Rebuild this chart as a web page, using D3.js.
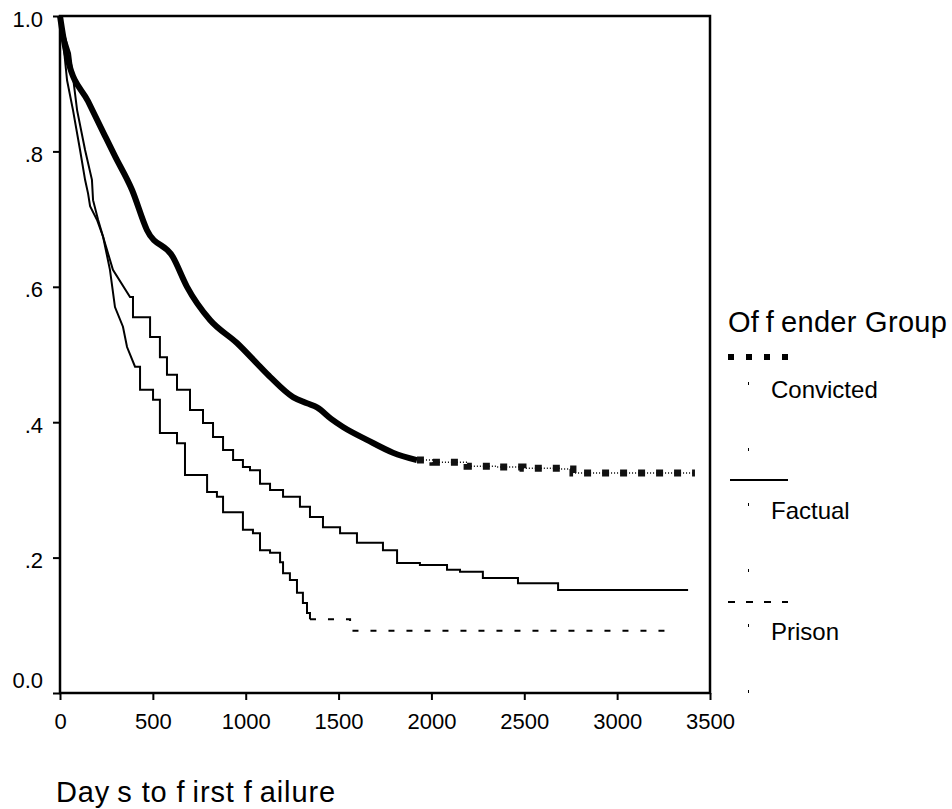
<!DOCTYPE html>
<html lang="en">
<head>
<meta charset="UTF-8">
<title>Days to first failure by Offender Group</title>
<script src="https://d3js.org/d3.v7.min.js"></script>
<style>
  body { margin: 0; background: #fff; }
  svg { display: block; font-family: "Liberation Sans", Arial, sans-serif; }
  .axis text { font-size: 22px; fill: #000; }
  .axis line { stroke: #000; stroke-width: 2; }
  .axis path { display: none; }
</style>
</head>
<body>
<svg id="chart" width="952" height="809"></svg>
<script>
// survival estimates (day, proportion not yet failed)
const convictedDays = [0, 16, 43, 151, 242, 296, 388, 468, 608, 684, 808, 953, 1077, 1131, 1255, 1330, 1384, 1460, 1524, 1653, 1793, 1922, 2008, 2192, 2353, 2493, 2692, 2762, 3419];
const convictedSurv = [1.0, 0.972, 0.935, 0.874, 0.823, 0.793, 0.743, 0.684, 0.644, 0.600, 0.551, 0.517, 0.482, 0.467, 0.437, 0.428, 0.422, 0.405, 0.393, 0.374, 0.355, 0.344, 0.341, 0.335, 0.334, 0.332, 0.331, 0.325, 0.325];

const factualDays = [0, 20, 54, 92, 135, 172, 178, 205, 232, 285, 377, 393, 485, 538, 576, 630, 700, 770, 824, 878, 932, 985, 1023, 1077, 1131, 1201, 1292, 1346, 1416, 1508, 1599, 1739, 1815, 1938, 2084, 2154, 2277, 2466, 2682, 3382];
const factualSurv = [1.0, 0.975, 0.945, 0.861, 0.802, 0.758, 0.728, 0.699, 0.674, 0.625, 0.585, 0.555, 0.526, 0.496, 0.470, 0.448, 0.418, 0.399, 0.378, 0.359, 0.344, 0.334, 0.329, 0.309, 0.300, 0.290, 0.275, 0.260, 0.245, 0.236, 0.222, 0.211, 0.192, 0.189, 0.182, 0.179, 0.170, 0.162, 0.152, 0.152];

const prisonDays = [0, 16, 38, 70, 108, 135, 151, 162, 199, 232, 269, 296, 339, 361, 404, 431, 501, 538, 630, 673, 792, 845, 878, 985, 1039, 1077, 1131, 1185, 1201, 1238, 1276, 1308, 1330, 1346, 1562, 3284];
const prisonSurv = [1.0, 0.965, 0.905, 0.861, 0.802, 0.758, 0.738, 0.719, 0.699, 0.674, 0.625, 0.570, 0.541, 0.511, 0.482, 0.448, 0.433, 0.384, 0.369, 0.322, 0.297, 0.290, 0.267, 0.241, 0.236, 0.211, 0.207, 0.193, 0.177, 0.167, 0.148, 0.133, 0.118, 0.109, 0.092, 0.092];

const xTicks = [0, 500, 1000, 1500, 2000, 2500, 3000, 3500];
const yTicks = [0, 0.2, 0.4, 0.6, 0.8, 1.0];
const yTickLabels = ["0.0", ".2", ".4", ".6", ".8", "1.0"];
const groups = ["Convicted", "Factual", "Prison"];

const svg = d3.select("#chart");
const x = d3.scaleLinear().domain([0, 3500]).range([60, 710]);
const y = d3.scaleLinear().domain([0, 1]).range([693, 16]);

// axes
svg.append("g")
  .attr("class", "axis")
  .attr("transform", `translate(0,${y(0)})`)
  .call(d3.axisBottom(x).tickValues(xTicks).tickSize(7).tickPadding(13).tickFormat(d3.format("d")));

svg.append("g")
  .attr("class", "axis")
  .attr("transform", `translate(${x(0)},0)`)
  .call(d3.axisLeft(y).tickValues(yTicks).tickSize(7).tickPadding(10)
    .tickFormat((d, i) => yTickLabels[i]))
  .selectAll(".tick text")
  .attr("dy", d => d === 0 ? "-0.25em" : "0.46em");

// frame
svg.append("rect")
  .attr("x", x(0)).attr("y", y(1))
  .attr("width", x(3500) - x(0)).attr("height", y(0) - y(1))
  .attr("fill", "none").attr("stroke", "#000").attr("stroke-width", 2.5);

const pairs = (days, surv) => days.map((d, i) => [d, surv[i]]);
const lin = d3.line().x(d => x(d[0])).y(d => y(d[1]));
const smooth = d3.line().curve(d3.curveMonotoneX).x(d => x(d[0])).y(d => y(d[1]));
const step = d3.line().curve(d3.curveStepAfter).x(d => x(d[0])).y(d => y(d[1]));

const plot = svg.append("g").attr("fill", "none").attr("stroke", "#000");

// steep start drawn straight, the rest as steps
function steppedPath(data, steepUntil) {
  const head = data.filter(d => d[0] <= steepUntil);
  const rest = data.filter(d => d[0] >= steepUntil);
  return lin(head) + step(rest).replace(/^M/, "L");
}

// Prison: thin stepped, dashed once it flattens
const prison = pairs(prisonDays, prisonSurv);
plot.append("path").attr("d", steppedPath(prison.filter(d => d[0] <= 1346), 404))
  .attr("stroke-width", 2);
plot.append("path").attr("d", step(prison.filter(d => d[0] >= 1346)))
  .attr("stroke-width", 2).attr("stroke-dasharray", "6,12");

// Factual: thin solid stepped
plot.append("path").attr("d", steppedPath(pairs(factualDays, factualSurv), 377))
  .attr("stroke-width", 2);

// Convicted: heavy square markers merging into a thick line
const convicted = pairs(convictedDays, convictedSurv);
const convTail = convicted.filter(d => d[0] >= 1922);
plot.append("path").attr("d", smooth(convicted.filter(d => d[0] <= 1922)))
  .attr("stroke-width", 6).attr("stroke-linejoin", "round");
plot.append("path").attr("d", step(convTail))
  .attr("stroke-width", 1.5).attr("stroke-dasharray", "1,2");
plot.append("path").attr("d", step(convTail))
  .attr("stroke-width", 7).attr("stroke", "#111").attr("stroke-dasharray", "7,11");

// axis title (the original has odd gaps inside words)
const gap = 7;
svg.append("text")
  .attr("x", 56).attr("y", 802)
  .attr("font-size", 29)
  .attr("letter-spacing", 0.9)
  .selectAll("tspan")
  .data(["Day", "s to f", "irst f", "ailure"])
  .join("tspan")
  .attr("dx", (d, i) => i ? gap : 0)
  .text(d => d);

// legend
const legend = svg.append("g").attr("transform", "translate(728,0)");
legend.append("text")
  .attr("x", 0).attr("y", 332)
  .attr("font-size", 29)
  .attr("letter-spacing", 0.3)
  .selectAll("tspan")
  .data(["Of", "f", "ender Group"])
  .join("tspan")
  .attr("dx", (d, i) => i ? gap : 0)
  .text(d => d);

const rowY = [357, 480, 602];
const labelY = [398, 519, 640];
const swatchStyles = [
  { w: 6, dash: "6,12" },
  { w: 2, dash: null },
  { w: 2, dash: "7,11" }
];

groups.forEach((g, i) => {
  legend.append("line")
    .attr("x1", i === 1 ? 2 : 0).attr("x2", 60)
    .attr("y1", rowY[i]).attr("y2", rowY[i])
    .attr("stroke", "#000")
    .attr("stroke-width", swatchStyles[i].w)
    .attr("stroke-dasharray", swatchStyles[i].dash);
  legend.append("text")
    .attr("x", 43).attr("y", labelY[i])
    .attr("font-size", 24)
    .text(g);
  // tiny specks SPSS leaves beside each legend entry
  [labelY[i] - 16, labelY[i] + 50].forEach(sy => {
    legend.append("rect").attr("x", 20).attr("y", sy).attr("width", 1).attr("height", 3).attr("fill", "#000");
  });
});
</script>
</body>
</html>
